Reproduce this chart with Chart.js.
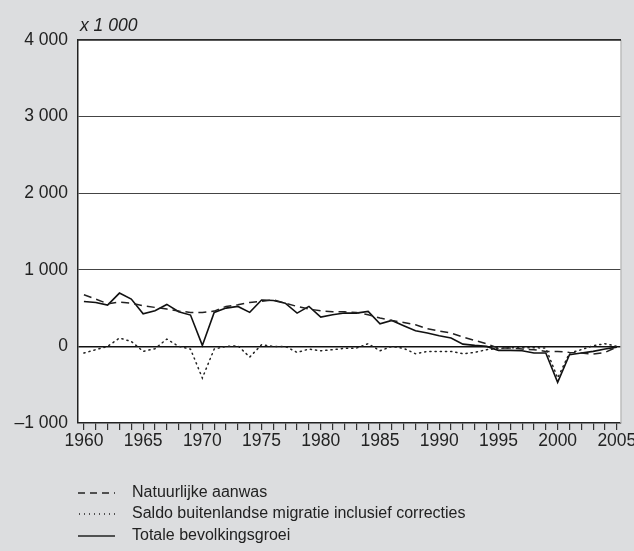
<!DOCTYPE html>
<html>
<head>
<meta charset="utf-8">
<script src="https://cdn.jsdelivr.net/npm/chart.js@4"></script>
<style>
  html, body { margin: 0; padding: 0; background: #dcdddf; }
  #wrap { position: relative; width: 634px; height: 551px; background: #dcdddf; overflow: hidden; }
  canvas { position: absolute; left: 0; top: 0; }
  .unit { position: absolute; left: 80px; top: 15px; font: italic 17.5px "Liberation Sans", Arial, sans-serif; color: #222; line-height: 20px; }
  .leg { position: absolute; left: 78px; font: 16px "Liberation Sans", Arial, sans-serif; color: #222; }
  .leg svg { position: absolute; left: 0; top: 0; }
  .leg span { position: absolute; left: 54px; top: 0; white-space: nowrap; line-height: 20px; }
</style>
</head>
<body>
<div id="wrap">
  <canvas id="c" width="634" height="551"></canvas>
  <div class="unit">x 1 000</div>
  <div class="leg" style="top:482px"><svg width="40" height="20"><line x1="0" y1="11" x2="37" y2="11" stroke="#222" stroke-width="1.4" stroke-dasharray="7,5"/></svg><span>Natuurlijke aanwas</span></div>
  <div class="leg" style="top:503px"><svg width="40" height="20"><line x1="1" y1="11" x2="37" y2="11" stroke="#222" stroke-width="1.4" stroke-dasharray="1,4"/></svg><span>Saldo buitenlandse migratie inclusief correcties</span></div>
  <div class="leg" style="top:525px"><svg width="40" height="20"><line x1="0" y1="11" x2="37" y2="11" stroke="#222" stroke-width="1.6"/></svg><span>Totale bevolkingsgroei</span></div>
</div>
<script>
const years = [];
for (let y = 1960; y <= 2005; y++) years.push(y);

const natuurlijkeAanwas = [
  674, 618, 557, 578, 565, 530, 509, 487, 461, 444,
  444, 461, 522, 544, 574, 587, 609, 565, 522, 487,
  465, 452, 452, 444, 413, 370, 339, 313, 283, 230,
  200, 174, 122, 78, 35, -22, -22, -35, -43, -65,
  -65, -78, -87, -100, -78, -9
];
const saldoMigratie = [
  -87, -43, 0, 109, 65, -65, -30, 96, 0, -35,
  -413, -35, 0, 9, -139, 22, 0, 0, -78, -35,
  -57, -43, -26, -22, 35, -57, 0, -26, -96, -65,
  -65, -65, -96, -78, -43, -26, -17, -17, -17, -22,
  -413, -87, -43, 9, 35, 0
];
const totaleGroei = [
  587, 574, 539, 696, 618, 426, 465, 548, 452, 409,
  13, 444, 500, 522, 444, 605, 600, 565, 435, 522,
  383, 413, 435, 435, 457, 296, 339, 270, 204, 174,
  139, 109, 30, 13, 0, -52, -52, -57, -87, -87,
  -470, -109, -87, -65, -35, -9
];
const yTickValues = [-1000, 0, 1000, 2000, 3000, 4000];
const yTickLabels = ['\u20131 000', '0', '1 000', '2 000', '3 000', '4 000'];
const xLabelYears = [1960, 1965, 1970, 1975, 1980, 1985, 1990, 1995, 2000, 2005];

const toXY = arr => arr.map((v, i) => ({ x: years[i], y: v }));
const font = { family: '"Liberation Sans", Arial, sans-serif', size: 17.5 };

const bgPlugin = {
  id: 'bg',
  beforeDraw(chart) {
    const { ctx, chartArea: a } = chart;
    ctx.save();
    ctx.fillStyle = '#ffffff';
    ctx.fillRect(a.left, a.top, a.right - a.left, a.bottom - a.top);
    ctx.restore();
  },
  afterDatasetsDraw(chart) {
    const { ctx, chartArea: a } = chart;
    ctx.save();
    ctx.strokeStyle = '#bdbdbd';
    ctx.lineWidth = 1.5;
    ctx.beginPath();
    ctx.moveTo(a.right, a.top);
    ctx.lineTo(a.right, a.bottom);
    ctx.stroke();
    ctx.strokeStyle = '#222';
    ctx.lineWidth = 1.5;
    ctx.beginPath();
    ctx.moveTo(a.left, a.top);
    ctx.lineTo(a.right, a.top);
    ctx.stroke();
    ctx.restore();
  }
};

new Chart(document.getElementById('c'), {
  type: 'line',
  data: {
    datasets: [
      { label: 'Natuurlijke aanwas', data: toXY(natuurlijkeAanwas), borderColor: '#222', borderWidth: 1.5, borderDash: [8, 5], pointRadius: 0, tension: 0 },
      { label: 'Saldo buitenlandse migratie inclusief correcties', data: toXY(saldoMigratie), borderColor: '#222', borderWidth: 1.5, borderDash: [1.2, 4], borderCapStyle: 'round', pointRadius: 0, tension: 0 },
      { label: 'Totale bevolkingsgroei', data: toXY(totaleGroei), borderColor: '#111', borderWidth: 1.6, pointRadius: 0, tension: 0 }
    ]
  },
  options: {
    responsive: false,
    animation: false,
    layout: { padding: { left: 0, top: 40, right: 13, bottom: 0 } },
    plugins: { legend: { display: false }, tooltip: { enabled: false } },
    scales: {
      x: {
        type: 'linear',
        min: 1959.5,
        max: 2005.35,
        afterBuildTicks(scale) { scale.ticks = years.map(v => ({ value: v })); },
        afterFit(scale) { scale.height = 128; scale.paddingLeft = 0; scale.paddingRight = 0; },
        ticks: {
          autoSkip: false,
          maxRotation: 0,
          padding: 1,
          color: '#222',
          font: font,
          callback: v => (xLabelYears.includes(v) ? String(v) : '')
        },
        grid: { drawOnChartArea: false, drawTicks: true, tickLength: 7, color: '#333', lineWidth: 1.2 },
        border: { display: true, color: '#222', width: 1.5 }
      },
      y: {
        type: 'linear',
        min: -1000,
        max: 4000,
        afterBuildTicks(scale) { scale.ticks = yTickValues.map(v => ({ value: v })); },
        afterFit(scale) { scale.width = 78; scale.paddingTop = 0; scale.paddingBottom = 0; },
        ticks: {
          padding: 10,
          color: '#222',
          font: font,
          callback: v => yTickLabels[yTickValues.indexOf(v)]
        },
        grid: {
          drawTicks: false,
          color: ctx => (ctx.tick && ctx.tick.value === 0 ? '#111' : '#444'),
          lineWidth: ctx => (ctx.tick && ctx.tick.value === 0 ? 1.6 : 1.1)
        },
        border: { display: true, color: '#222', width: 1.5 }
      }
    }
  },
  plugins: [bgPlugin]
});
</script>
</body>
</html>
